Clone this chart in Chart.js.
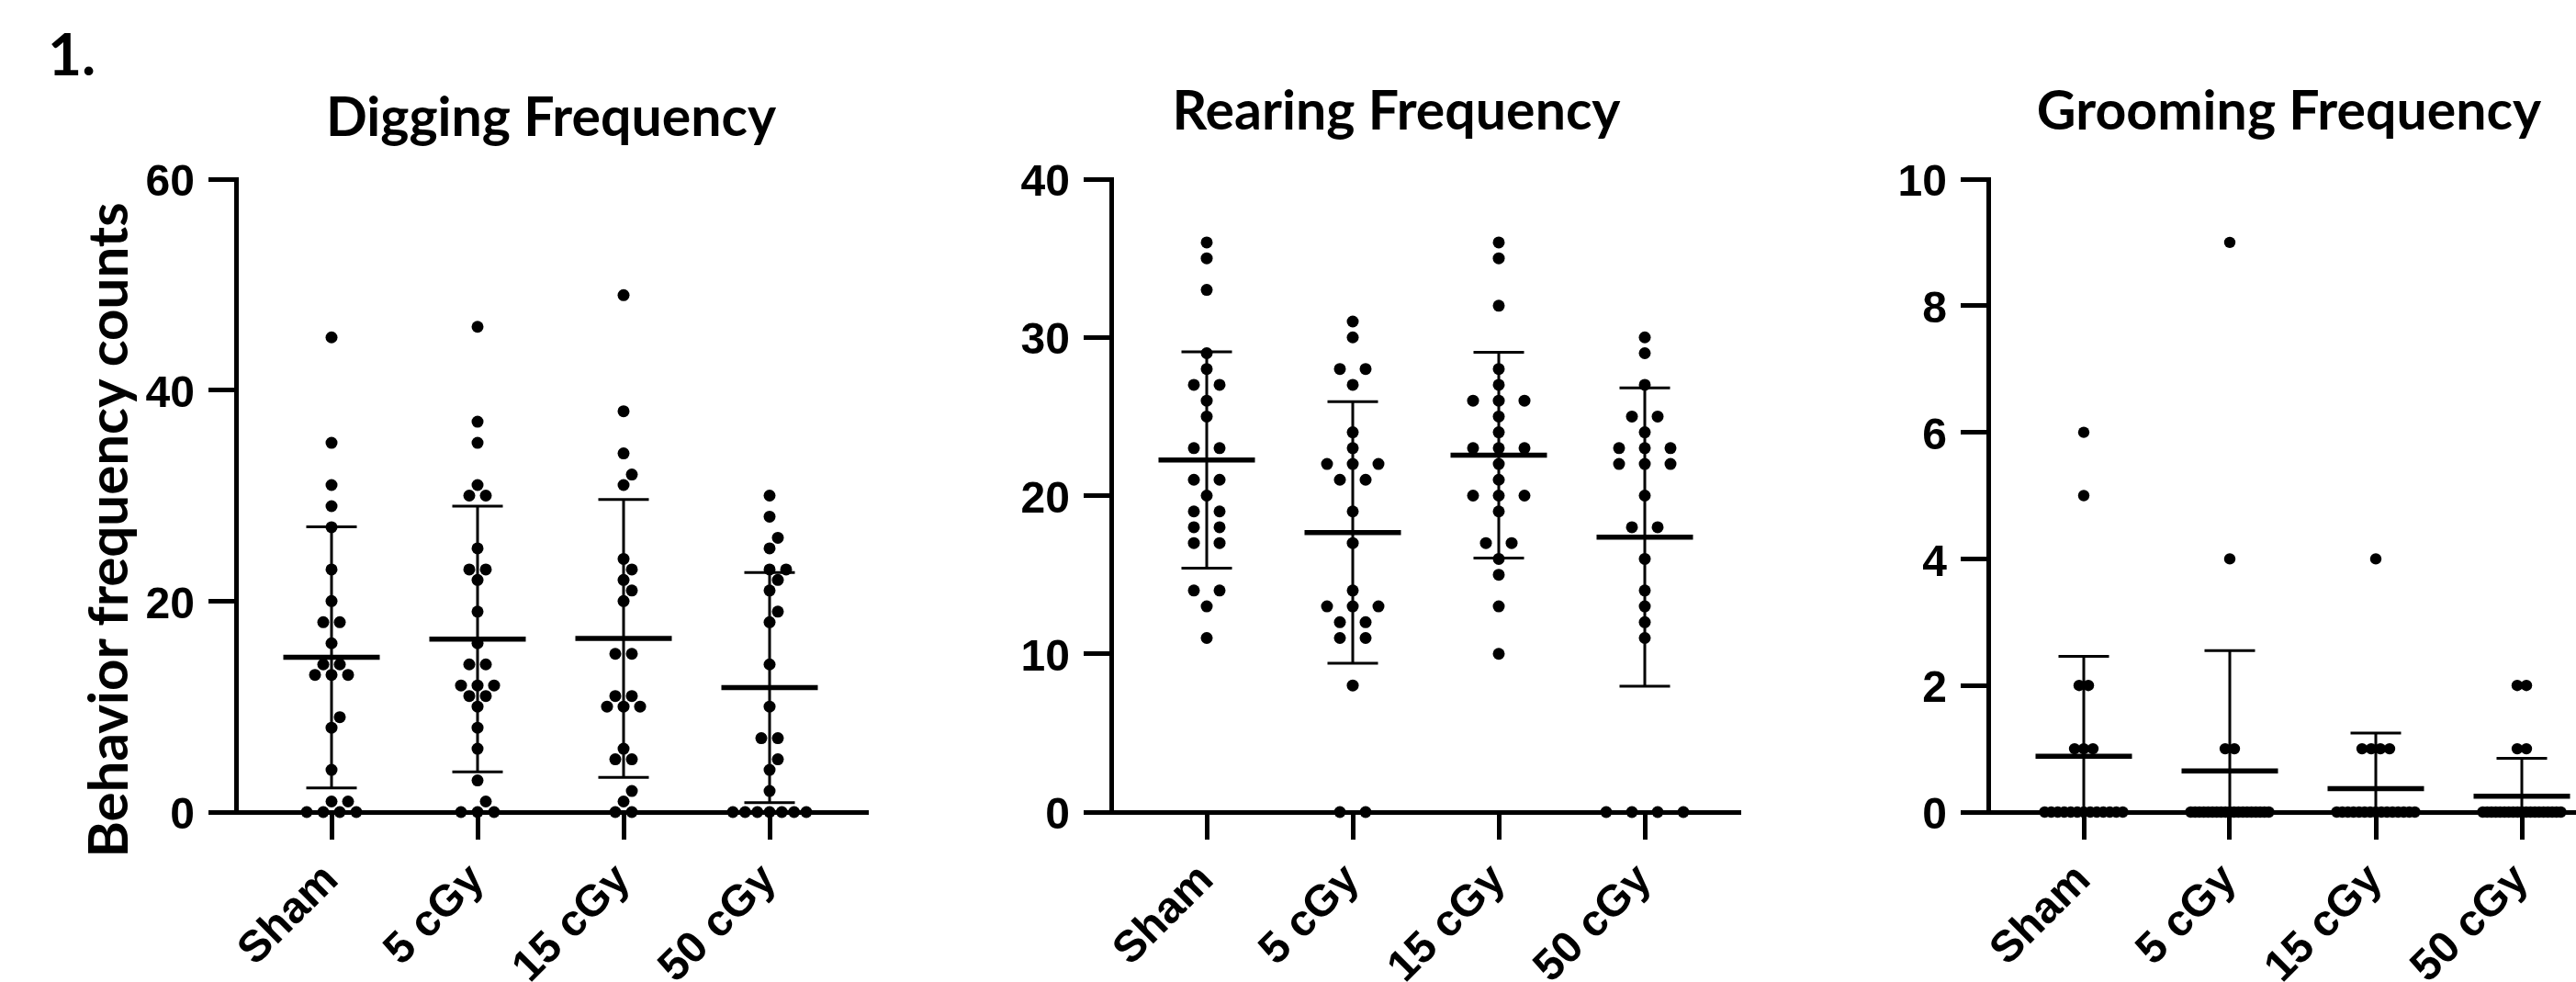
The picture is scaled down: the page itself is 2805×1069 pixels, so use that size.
<!DOCTYPE html>
<html>
<head>
<meta charset="utf-8">
<script src="https://cdn.jsdelivr.net/npm/chart.js@4.4.1/dist/chart.umd.min.js"></script>
<style>
  html, body { margin: 0; padding: 0; background: #fff; overflow: hidden; width: 2805px; height: 1069px; }
  canvas { position: absolute; top: 0; }
  #figNum { position: absolute; left: 52px; top: 26px; font: bold 64px Lato; line-height: 64px; color: #000; }
  #yLabel { position: absolute; left: -290px; top: 547px; width: 800px; height: 60px; line-height: 60px;
            text-align: center; font: bold 60px Lato; color: #000; transform: rotate(-90deg); }
</style>
</head>
<body>
<div id="figNum">1.</div>
<div id="yLabel">Behavior frequency counts</div>
<canvas id="digging" width="1200" height="1069" style="left:0px"></canvas>
<canvas id="rearing" width="1041" height="1069" style="left:1000px"></canvas>
<canvas id="grooming" width="1065" height="1069" style="left:1960px"></canvas>
<script>
const groups = ['Sham', '5 cGy', '15 cGy', '50 cGy'];

// Digging frequency (individual animals)
const diggingSham = [45, 35, 31, 29, 27, 23, 20, 18, 18, 16, 14, 14, 13, 13, 13, 9, 8, 4, 1, 1, 0, 0, 0, 0];
const digging5 = [46, 37, 35, 31, 30, 30, 25, 23, 23, 22, 19, 16, 14, 14, 12, 12, 12, 11, 11, 10, 8, 6, 3, 1, 0, 0, 0];
const digging15 = [49, 38, 34, 32, 31, 24, 23, 22, 21, 20, 15, 15, 11, 11, 10, 10, 10, 6, 5, 5, 2, 1, 0, 0];
const digging50 = [30, 28, 26, 25, 23, 23, 22, 21, 19, 18, 14, 10, 7, 7, 5, 4, 2, 0, 0, 0, 0, 0, 0, 0];
const diggingMean = [14.67, 16.4, 16.45, 11.8];
const diggingSD = [12.38, 12.6, 13.17, 10.9];

// Rearing frequency
const rearingSham = [36, 35, 33, 29, 28, 27, 27, 26, 25, 23, 23, 21, 21, 20, 19, 19, 18, 18, 17, 17, 14, 14, 13, 11];
const rearing5 = [31, 30, 28, 28, 27, 24, 23, 22, 22, 22, 21, 21, 19, 17, 14, 13, 13, 13, 12, 12, 11, 11, 8, 0, 0];
const rearing15 = [36, 35, 32, 28, 27, 26, 26, 26, 25, 24, 23, 23, 23, 22, 21, 20, 20, 20, 19, 17, 17, 16, 15, 13, 10];
const rearing50 = [30, 29, 27, 25, 25, 24, 23, 23, 23, 22, 22, 22, 20, 18, 18, 16, 14, 13, 12, 11, 0, 0, 0, 0];
const rearingMean = [22.25, 17.67, 22.55, 17.38];
const rearingSD = [6.83, 8.26, 6.5, 9.43];

// Grooming frequency
const groomingSham = [6, 5, 2, 2, 1, 1, 1, 0, 0, 0, 0, 0, 0, 0, 0, 0, 0, 0, 0, 0];
const grooming5 = [9, 4, 1, 1, 0, 0, 0, 0, 0, 0, 0, 0, 0, 0, 0, 0, 0, 0, 0, 0, 0, 0, 0];
const grooming15 = [4, 1, 1, 1, 1, 0, 0, 0, 0, 0, 0, 0, 0, 0, 0, 0, 0, 0, 0, 0];
const grooming50 = [2, 2, 1, 1, 0, 0, 0, 0, 0, 0, 0, 0, 0, 0, 0, 0, 0, 0, 0, 0, 0, 0, 0];
const groomingMean = [0.88, 0.65, 0.37, 0.25];
const groomingSD = [1.58, 1.9, 0.88, 0.6];

const PLOT_TOP = 195;
const PLOT_BOTTOM = 884;
const CAT_PX = 159;      // distance between two group centres
const FIRST_CAT_PX = 104; // y axis to first group
const DOT = 13;

// spread equal values sideways like a column scatter plot
function swarmOffsets(values, unitPx, gap, maxSpan) {
  const out = new Array(values.length).fill(0);
  const rows = new Map();
  values.forEach((v, i) => {
    if (!rows.has(v)) rows.set(v, []);
    rows.get(v).push(i);
  });
  const keys = [...rows.keys()].sort((a, b) => a - b);
  const placed = [];
  keys.forEach(v => {
    const idx = rows.get(v);
    const n = idx.length;
    const g = n > 1 ? Math.min(gap, maxSpan / (n - 1)) : gap;
    const base = idx.map((_, k) => (k - (n - 1) / 2) * g);
    const y = v * unitPx;
    let shift = 0;
    for (const s of [0, g / 2, -g / 2, g, -g, 1.5 * g, -1.5 * g]) {
      const ok = base.every(bx => placed.every(p => Math.hypot(p.x - (bx + s), p.y - y) >= DOT));
      if (ok) { shift = s; break; }
    }
    idx.forEach((i, k) => {
      out[i] = base[k] + shift;
      placed.push({ x: base[k] + shift, y: y });
    });
  });
  return out;
}

// the panel titles are not centred on the plot, move the title box after layout
const titlePlacer = {
  id: 'titlePlacer',
  afterLayout(chart, args, opts) {
    const t = chart.titleBlock;
    if (t && opts.center != null) {
      t.left = opts.center - 500;
      t.right = opts.center + 500;
    }
  }
};

const tickFont = { family: 'Liberation Sans', weight: 'bold', size: 48 };

function buildPanel(id, cfg) {
  const unitPx = (PLOT_BOTTOM - PLOT_TOP) / cfg.yMax;
  const xMin = -FIRST_CAT_PX / CAT_PX;
  const xMax = xMin + cfg.plotWidth / CAT_PX;

  const dots = [];
  cfg.series.forEach((vals, g) => {
    const offs = swarmOffsets(vals, unitPx, cfg.gap, cfg.maxSpan);
    vals.forEach((v, i) => dots.push({ x: g + offs[i] / CAT_PX, y: v }));
  });
  const means = cfg.means.map((m, g) => ({ x: g, y: m }));
  const caps = [];
  const stems = [];
  cfg.means.forEach((m, g) => {
    const sd = cfg.sds[g];
    caps.push({ x: g, y: m + sd }, { x: g, y: m - sd });
    stems.push({ x: g, y: m - sd }, { x: g, y: m + sd }, { x: g, y: null });
  });

  const axisGrid = { display: true, drawOnChartArea: false, drawTicks: true, tickLength: 30, tickWidth: 5, tickColor: '#000' };
  const axisBorder = { display: true, color: '#000', width: 5 };
  const titleSize = 59;
  const titleLine = titleSize * 1.2;

  new Chart(document.getElementById(id), {
    type: 'scatter',
    plugins: [titlePlacer],
    data: {
      datasets: [
        { data: stems, showLine: true, spanGaps: false, borderColor: '#000', borderWidth: 3, pointRadius: 0 },
        { data: caps, pointStyle: 'line', pointRadius: 27.5, pointBorderWidth: 3, pointBorderColor: '#000' },
        { data: means, pointStyle: 'line', pointRadius: 52.5, pointBorderWidth: 5.5, pointBorderColor: '#000' },
        { data: dots, pointRadius: cfg.dotRadius, pointBackgroundColor: '#000', pointBorderWidth: 0, clip: false }
      ]
    },
    options: {
      responsive: false,
      animation: false,
      events: [],
      layout: { padding: { left: 0, right: cfg.padRight, top: 0, bottom: 0 } },
      plugins: {
        legend: { display: false },
        tooltip: { enabled: false },
        titlePlacer: { center: cfg.titleCenter },
        title: {
          display: true,
          text: cfg.title,
          color: '#000',
          font: { family: 'Lato', weight: 'bold', size: titleSize, lineHeight: 1.2 },
          padding: { top: cfg.titleTop, bottom: PLOT_TOP - cfg.titleTop - titleLine }
        }
      },
      scales: {
        x: {
          type: 'linear',
          min: xMin,
          max: xMax,
          afterBuildTicks: s => { s.ticks = groups.map((_, i) => ({ value: i })); },
          afterFit: s => { s.height = 1069 - PLOT_BOTTOM; },
          ticks: {
            callback: v => groups[v],
            minRotation: 45, maxRotation: 45, autoSkip: false,
            padding: 16, color: '#000', font: tickFont
          },
          grid: axisGrid,
          border: axisBorder
        },
        y: {
          min: 0,
          max: cfg.yMax,
          afterFit: s => { s.width = cfg.yAxisWidth; },
          ticks: { stepSize: cfg.yStep, padding: 15, labelOffset: 5, color: '#000', font: tickFont },
          grid: axisGrid,
          border: axisBorder
        }
      }
    }
  });
}

buildPanel('digging', {
  title: 'Digging Frequency', titleTop: 94, titleCenter: 600,
  series: [diggingSham, digging5, digging15, digging50],
  means: diggingMean, sds: diggingSD,
  yMax: 60, yStep: 20,
  yAxisWidth: 257, plotWidth: 688, padRight: 255,
  gap: 18, maxSpan: 80, dotRadius: 6.5
});

buildPanel('rearing', {
  title: 'Rearing Frequency', titleTop: 87, titleCenter: 520.5,
  series: [rearingSham, rearing5, rearing15, rearing50],
  means: rearingMean, sds: rearingSD,
  yMax: 40, yStep: 10,
  yAxisWidth: 210, plotWidth: 685, padRight: 146,
  gap: 28, maxSpan: 90, dotRadius: 6.5
});

buildPanel('grooming', {
  title: 'Grooming Frequency', titleTop: 87, titleCenter: 532.5,
  series: [groomingSham, grooming5, grooming15, grooming50],
  means: groomingMean, sds: groomingSD,
  yMax: 10, yStep: 2,
  yAxisWidth: 205, plotWidth: 688, padRight: 172,
  gap: 10, maxSpan: 85, dotRadius: 6.2
});
</script>
</body>
</html>
